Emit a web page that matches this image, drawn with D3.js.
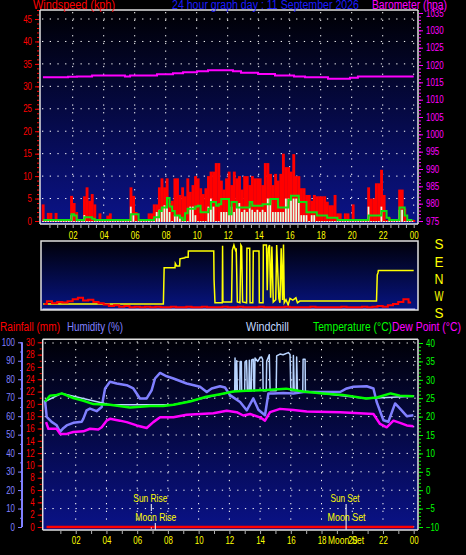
<!DOCTYPE html>
<html><head><meta charset="utf-8">
<script src="https://cdn.jsdelivr.net/npm/d3@7"></script>
<style>
html,body{margin:0;padding:0;background:#000;}
svg{display:block;}
text{font-family:"Liberation Sans",Arial,sans-serif;}
</style></head><body>
<svg id="c" width="466" height="555"></svg>
<script>
// ---------------- DATA ----------------
const hourTicks = [2,4,6,8,10,12,14,16,18,20,22,24];
const hourLabels = ["02","04","06","08","10","12","14","16","18","20","22","00"];
const windTicks = [0,5,10,15,20,25,30,35,40,45];
const baroTicks = [975,980,985,990,995,1000,1005,1010,1015,1020,1025,1030,1035];
const dirTicks = [180,90,0,-90,-180];
const dirLabels = ["S","E","N","W","S"];
const humTicks = [0,10,20,30,40,50,60,70,80,90,100];
const rainTicks = [0,2,4,6,8,10,12,14,16,18,20,22,24,26,28,30];
const tempTicks = [-10,-5,0,5,10,15,20,25,30,35,40];

// wind gust (kph), 10-minute samples
const windGust = [
 3.7,0,1.8,1.8,0,1.8,   0,0,0,0,0,5.6,   4,2,0,0,5.5,7.5,   4.5,6,3.7,0,1.7,0,
 0,1.2,1.7,0,0,0,       0,0,0,0,7.5,5.6, 2,0,0,0,0,1.7,     1.7,3.7,3.7,7.5,9.5,7.5,
 9.5,4,4.5,9.5,9.5,5.8, 7.5,5.5,9.5,6.5,8,10, 9.5,7.3,6,7.3,10,11, 11,12.9,12.9,9,7,9.5,
 11,8,11,9.5,10,7,      10,10,8,10,9.5,9.5, 9.5,8,12.9,12.9,10.5,8, 10.5,9,10.5,15,12,12,
 11,14.9,10,10,7.3,7.3, 5.8,5.8,4.5,5.8,5.5,5.5, 5.5,5.5,4.3,3.5,3.5,5.8, 1.7,1.7,0,1.7,1.7,0,
 3.7,0,0,0,0,0,         7.5,5,5,8.4,8.4,11.4, 5.8,0,0.8,0,0,0, 7,7,2.8,0,0,0
];
// average wind (kph), 10-minute samples
const windAvg = [
 0,0,0,0,0,0,  0,0,0,0,0,1.3,  0,0,0,0,1.3,0,  0,0,0,0,0,0,
 0,0,0,0,0,0,  0,0,0,0,3.2,1.3,  0,0,0,0,0,0,  0,0,2,2.5,3,3.5,
 5,2,0,1.3,1.3,1.3,  0,0,0,3.2,3.2,1.3,  0,0,0,0,3.2,5,  3.2,0,0,2,2,2,
 3.2,3.2,2,3,4,2,  2.5,2,3,2.5,2,2.5,  2,2.5,2,5,5,2,  2,2,2,2,5,5,
 5,5,5,5,1.3,1.3,  1.3,0,1.3,1.3,0,0,  0,0,0,0,0,0,  0,0,0,0,0,0,
 0,0,0,0,0,0,  3.2,0,0,0,0,3.2,  0,0,0,0,0,0,  2.5,2.5,0,0,0,0
];
// wind average trend line (kph), 10-minute samples
const windTrend = [
 0,0,0,0,0,0,  0,0,0,0,0,1.3,  1,0,0,0,0.6,0.6,  0.6,0.3,0,0,0,0,
 0,0,0,0,0,0,  0,0,0,0,1.3,1.3,  1.3,0,0,0,0,0,  0,0.6,0.6,2,2.8,2.8,
 4.9,3,2,1,1,0.5,  0,1.5,2.5,2.5,2.5,3,  3.2,1.7,1.7,1.7,2.5,4,  4,3.2,3.5,4.7,4.7,4.7,
 1.3,4,4,2.8,2.8,2.8,  2.8,2.8,4,3.2,3.2,3.2,  3.2,3.5,3.5,3.5,4.7,4.7,  4.7,2.8,2.8,2.8,2.8,4.5,
 5.4,5.4,5.4,4,4,4,  1.7,1.7,1.7,1.7,1,1,  1,1,0.5,0.5,0.5,0.5,  0,0,0,0,0,0,
 0,0,0,0,0,0,  1,1,1,1,1,2,  2,0.5,0,0,0,0,  2.8,2.8,1,0,0,0
];
// barometer (hpa), step changes
const baroHours  = [0.08,1.7,2.28,3.25,5.37,5.7,7.44,8.47,9.12,10.02,10.73,12.34,12.86,13.96,15.05,16.28,16.99,18.47,19.89,20.4,24];
const baroValues = [1016.5,1016.6,1016.7,1017.0,1016.7,1017.0,1017.3,1017.6,1017.9,1018.2,1018.5,1018.2,1017.8,1017.4,1017.0,1016.7,1016.5,1016.0,1016.3,1016.7,1016.7];

// wind direction (degrees, W side negative)
const dirHours = [0.1,7.85,7.9,8.6,8.62,8.71,8.9,8.92,9.24,9.26,9.45,9.46,11.1,11.12,11.18,11.65,11.67,11.69,12.25,12.3,12.4,12.5,12.55,12.62,12.79,12.85,12.9,12.96,13.22,13.24,13.42,13.44,13.62,13.65,14.02,14.04,14.28,14.3,14.5,14.55,14.62,14.7,14.77,14.85,14.94,15.1,15.16,15.3,15.37,15.45,15.54,15.6,15.65,15.76,15.9,16.02,16.2,16.4,16.5,16.66,21.6,21.65,21.7,21.72,24];
const dirValues = [-133,-133,58,58,81,67,67,105,110,113,113,146,146,-7,-126,-126,174,-122,-122,151,177,151,160,-122,-126,177,170,-122,-126,160,160,-126,-126,146,146,-126,-126,177,177,-60,160,177,-100,170,-122,-110,177,-103,-126,160,-112,180,-126,-110,-138,-103,-112,-100,-126,-117,-117,20,32,44,44];
// small speed trace in direction panel, 20-minute samples
const dirSpeed = [
 0.6,1.0,0.7,0.9,0.8,1.0,1.3,1.5,1.1,1.2,0.9,0.7,
 0.5,0.3,0.4,0.2,0.3,0.1,0.2,0.1,0.2,0.1,0.2,0.1,
 0.1,0.2,0.1,0.1,0.2,0.1,0.1,0.2,0.1,0.1,0.1,0.2,
 0.1,0.1,0.2,0.1,0.1,0.1,0.2,0.1,0.1,0.1,0.1,0.2,
 0.1,0.1,0.1,0.1,0.2,0.1,0.1,0.1,0.1,0.1,0.2,0.1,
 0.1,0.1,0.2,0.1,0.2,0.3,0.2,0.4,0.6,0.9,1.3,0.8
];

// humidity (%)
const humHours  = [0,0.11,0.43,0.76,0.98,1.19,1.41,1.84,2.39,2.5,2.71,2.93,3.36,3.69,3.91,4.23,4.67,5.32,5.75,6.18,6.62,6.94,7.16,7.49,7.92,8.36,9.22,10.09,10.53,10.85,11.39,11.72,12.04,12.7,13.13,13.56,13.89,14.32,14.54,14.87,15.52,16.17,16.82,18.12,19.21,19.64,20.07,20.94,21.38,21.59,22.03,22.35,22.79,23.11,23.55,23.98];
const humValues = [68.6,59.6,56.9,55.1,51.5,53.5,55,56.4,57,58.7,63.2,64.1,62.7,65,75,78.6,77.7,76.8,75,69.6,69.6,74,80.4,83.4,81.6,80.4,77.7,75.9,73.1,75,76.2,75.5,71.4,67.7,63.2,69.6,63.5,60.5,72.3,72.3,72.6,72.3,73.1,73.1,73.1,75,75.9,76.2,75,67.7,57.8,57,66.9,64.1,60,60.5];
// temperature (°C)
const tempHours  = [0,0.33,0.76,1.09,1.84,2.5,3.15,4.23,5.53,6.84,7.7,8.36,9.44,10.5,11.4,12.26,13.1,14.4,15.7,16.8,18.1,19.4,20.9,21.6,22.5,23.1,24];
const tempValues = [24.1,25.7,25.9,26.3,25.05,24.3,23.4,23.2,22.5,22.9,22.9,23.2,24.1,25.4,26.1,26.8,27,27.2,27.6,26.8,26.3,25.9,24.9,25.2,26.3,25.7,25.5];
// dew point (°C)
const dewHours  = [0.07,0.22,0.76,0.98,1.41,1.84,2.5,2.93,3.47,3.69,4.01,4.23,4.88,5.32,5.97,6.62,7.05,7.49,8.36,9.22,10.96,11.83,12.48,12.91,13.35,14.0,14.32,14.65,15.3,16.17,17.04,19.21,21.38,21.81,22.24,22.68,23.11,23.55,23.98];
const dewValues = [18.5,16.7,16.7,15.3,15.3,15.8,16,16.7,16.5,17.1,18.9,19.4,18.9,18.5,17.6,16.9,18.5,19.8,19.8,20.5,20.9,21.6,21.2,20.3,20.7,19.8,18.9,21.2,22.1,21.8,21.4,21.2,20.7,18,17.1,18.9,18.3,17.6,17.4];
// windchill (°C)
const chillHours  = [0,1.09,4.23,8.36,12.26,12.35,12.37,12.42,12.46,12.48,12.52,12.68,12.7,12.78,12.8,13.0,13.02,13.12,13.17,13.27,13.3,13.35,13.43,13.45,13.56,13.6,13.64,13.67,13.85,14.0,14.1,14.17,14.2,14.4,14.43,14.6,14.65,15.05,15.08,15.3,15.5,15.84,15.95,16.0,16.15,16.17,16.22,16.36,16.38,16.43,16.78,16.8,16.93,16.95,18.1,20.9,24];
const chillValues = [24.1,26.3,23.2,23.2,26.8,26.9,35.9,27,27,35.2,27,27,35,35,27,27,34.8,35.2,27,27,35.3,27,27,35.4,35.6,27,27,35.9,35,36,36.2,35.5,27,27,35,36.8,27,27,36.5,37,36.8,37.4,36.9,27,27,36.6,27,27,36.2,27,27,35.6,35.6,26.9,26.3,24.9,25.5];
// rainfall (mm)
const rainHours = [0.1,24];
const rainValues = [0,0];
// astronomical events (hour of day)
const sunRise = 6.92, moonRise = 7.18, sunSet = 19.6;

// ---------------- CHART ----------------
const svg = d3.select("#c");
const defs = svg.append("defs");
function grad(id,c0,c1){
  const g = defs.append("linearGradient").attr("id",id).attr("x1",0).attr("y1",0).attr("x2",0).attr("y2",1);
  g.append("stop").attr("offset","0%").attr("stop-color",c0);
  g.append("stop").attr("offset","100%").attr("stop-color",c1);
}
grad("gTop","#000004","#0b1389");
grad("gDir","#000008","#071483");
grad("gBot","#000006","#0a1288");
function clip(id,x,y,w,h){ defs.append("clipPath").attr("id",id).append("rect").attr("x",x).attr("y",y).attr("width",w).attr("height",h); }

const RED="#ff0000", GREEN="#00ff00", MAG="#ff00ff", YEL="#ffff00", LAV="#8080ff", FRAME="#e0e0e0";

function narrow(sel,perChar){
  sel.attr("textLength",function(){ return this.textContent.length*perChar; })
     .attr("lengthAdjust","spacingAndGlyphs");
}
function styleAxis(g,color,fs){
  g.select(".domain").remove();
  g.selectAll("line").attr("stroke",color).attr("stroke-width",1);
  g.selectAll("text").attr("fill",color).attr("font-size",fs).attr("font-family",null);
  narrow(g.selectAll("text"),4.4);
  return g;
}
function dotted(g,x1,y1,x2,y2){
  g.append("line").attr("x1",x1).attr("y1",y1).attr("x2",x2).attr("y2",y2)
   .attr("stroke","#ffffff").attr("stroke-width",1).attr("stroke-dasharray","1.3,6.4");
}
function label(x,y,t,c,fs,len,anchor){
  return svg.append("text").attr("x",x).attr("y",y).attr("fill",c).attr("font-size",fs)
    .attr("text-anchor",anchor||"start").attr("textLength",len).attr("lengthAdjust","spacingAndGlyphs").text(t);
}

// ===== Top panel: wind + barometer =====
const P1 = {l:40,r:418,t:10,b:224};
const xT = d3.scaleLinear().domain([0,24]).range([41.7,413.7]);
const yWind = d3.scaleLinear().domain([0,45]).range([221,19]);
const yBaro = d3.scaleLinear().domain([975,1035]).range([221,13]);
clip("c1",P1.l,P1.t,P1.r-P1.l,P1.b-P1.t);

svg.append("rect").attr("x",P1.l).attr("y",P1.t).attr("width",P1.r-P1.l).attr("height",P1.b-P1.t).attr("fill","url(#gTop)");
const g1grid = svg.append("g");
windTicks.filter(d=>d>0).forEach(d=>dotted(g1grid,P1.l+2,yWind(d),P1.r-2,yWind(d)));
hourTicks.forEach(h=>dotted(g1grid,xT(h),P1.t+2,xT(h),P1.b-2));

const g1 = svg.append("g").attr("clip-path","url(#c1)");
const bw = xT(1/6)-xT(0);
g1.append("line").attr("x1",xT(0.08)).attr("x2",xT(24.1)).attr("y1",yWind(0)).attr("y2",yWind(0)).attr("stroke",RED).attr("stroke-width",2);
g1.selectAll(".gust").data(windGust).join("rect").attr("class","gust")
  .attr("x",(d,i)=>xT(i/6)).attr("width",bw+0.3)
  .attr("y",d=>yWind(d)).attr("height",d=>yWind(0)-yWind(d)+1).attr("fill",RED);
g1.selectAll(".avg").data(windAvg).join("rect").attr("class","avg")
  .attr("x",(d,i)=>xT(i/6)+0.4).attr("width",bw-0.8)
  .attr("y",d=>yWind(d)).attr("height",d=>yWind(0)-yWind(d)+1).attr("fill","#e4ffe4");
g1.append("path").datum(windTrend)
  .attr("d",d3.line().x((d,i)=>xT(i/6+1/12)).y(d=>yWind(d)-1).curve(d3.curveStepAfter))
  .attr("fill","none").attr("stroke","#10e010").attr("stroke-width",2);
g1.append("path").datum(baroHours.map((h,i)=>[h,baroValues[i]]))
  .attr("d",d3.line().x(d=>xT(d[0])).y(d=>yBaro(d[1])).curve(d3.curveStepAfter))
  .attr("fill","none").attr("stroke",MAG).attr("stroke-width",2);

// frame
const f1 = svg.append("g").attr("stroke",FRAME).attr("stroke-width",1.5);
f1.append("line").attr("x1",P1.l).attr("x2",P1.r).attr("y1",P1.t).attr("y2",P1.t);
f1.append("line").attr("x1",P1.l).attr("x2",P1.r).attr("y1",P1.b).attr("y2",P1.b);
f1.append("line").attr("x1",P1.l).attr("x2",P1.l).attr("y1",P1.t).attr("y2",P1.b);
f1.append("line").attr("x1",P1.r).attr("x2",P1.r).attr("y1",P1.t).attr("y2",P1.b);

// axes
styleAxis(svg.append("g").attr("transform",`translate(${P1.l-1},0)`)
  .call(d3.axisLeft(yWind).tickValues(d3.range(0,48,1)).tickSize(2).tickFormat("")),RED,10);
styleAxis(svg.append("g").attr("transform",`translate(${P1.l-1},0)`)
  .call(d3.axisLeft(yWind).tickValues(windTicks).tickSize(4).tickPadding(3).tickFormat(d3.format("d"))),RED,10);
styleAxis(svg.append("g").attr("transform",`translate(${P1.r+1},0)`)
  .call(d3.axisRight(yBaro).tickValues(d3.range(975,1036,1)).tickSize(2).tickFormat("")),MAG,10);
styleAxis(svg.append("g").attr("transform",`translate(${P1.r+1},0)`)
  .call(d3.axisRight(yBaro).tickValues(baroTicks).tickSize(4).tickPadding(3).tickFormat(d3.format("d"))),MAG,10);
styleAxis(svg.append("g").attr("transform",`translate(0,${P1.b+1})`)
  .call(d3.axisBottom(xT).tickValues(d3.range(0.5,24.01,0.5)).tickSize(3).tickFormat("")),"#b0b0b0",10);
styleAxis(svg.append("g").attr("transform",`translate(0,${P1.b})`)
  .call(d3.axisBottom(xT).tickValues(hourTicks).tickSize(0).tickPadding(7.5).tickFormat((d,i)=>hourLabels[i])),YEL,10);

// titles
label(33,9.3,"Windspeed (kph)",RED,12,82);
label(172,9.3,"24 hour graph day : 11 September 2026","#1c1cff",12,187);
label(372,9,"Barometer (hpa)",MAG,12,75);

// ===== Direction panel =====
const P2 = {l:41,r:418,t:241,b:310};
const yDir = d3.scaleLinear().domain([180,-180]).range([244.5,313]);
const ySpd = d3.scaleLinear().domain([0,10]).range([308,240]);
clip("c2",P2.l,P2.t,P2.r-P2.l,P2.b-P2.t);
svg.append("rect").attr("x",P2.l).attr("y",P2.t).attr("width",P2.r-P2.l).attr("height",P2.b-P2.t).attr("fill","url(#gDir)");
const g2 = svg.append("g").attr("clip-path","url(#c2)");
g2.append("line").attr("x1",xT(0.05)).attr("x2",xT(24.1)).attr("y1",309.2).attr("y2",309.2).attr("stroke","#c8c8ff").attr("stroke-width",1.5);
g2.append("path").datum(dirHours.map((h,i)=>[h,dirValues[i]]))
  .attr("d",d3.line().x(d=>xT(d[0])).y(d=>yDir(d[1])))
  .attr("fill","none").attr("stroke",YEL).attr("stroke-width",1.5);
g2.append("path").datum(dirSpeed)
  .attr("d",d3.line().x((d,i)=>xT(i/3+1/6)).y(d=>ySpd(d)).curve(d3.curveStep))
  .attr("fill","none").attr("stroke",RED).attr("stroke-width",2);
const f2 = svg.append("g").attr("stroke",FRAME).attr("stroke-width",1.5);
f2.append("rect").attr("x",P2.l).attr("y",P2.t).attr("width",P2.r-P2.l).attr("height",P2.b-P2.t).attr("fill","none");
const ad = svg.append("g").attr("transform","translate(432,0)")
  .call(d3.axisRight(yDir).tickValues(dirTicks).tickSize(0).tickPadding(7).tickFormat((d,i)=>dirLabels[i]));
ad.select(".domain").remove();
ad.selectAll("text").attr("fill",YEL).attr("font-size",14).attr("font-family",null).attr("text-anchor","middle")
  .attr("textLength",9).attr("lengthAdjust","spacingAndGlyphs");

// ===== Bottom panel =====
const P3 = {l:42.7,r:418,t:339.3,b:530};
const xB = d3.scaleLinear().domain([0,24]).range([45,413.7]);
const yTemp = d3.scaleLinear().domain([-10,40]).range([527,343]);
const yHum = d3.scaleLinear().domain([0,100]).range([527,342.3]);
const yRain = d3.scaleLinear().domain([0,30]).range([527,342.3]);
clip("c3",P3.l,P3.t,P3.r-P3.l,P3.b-P3.t);
svg.append("rect").attr("x",P3.l).attr("y",P3.t).attr("width",P3.r-P3.l).attr("height",P3.b-P3.t).attr("fill","url(#gBot)");
const g3grid = svg.append("g");
tempTicks.filter(d=>d>-10).forEach(d=>dotted(g3grid,P3.l+2,yTemp(d),P3.r-2,yTemp(d)));
hourTicks.forEach(h=>dotted(g3grid,xB(h),P3.t+2,xB(h),P3.b-2));

const g3 = svg.append("g").attr("clip-path","url(#c3)");
const lineHV = d3.line().x(d=>xB(d[0])).y(d=>d[1]);
function series(hours,vals,scale,color,w){
  g3.append("path").datum(hours.map((h,i)=>[h,scale(vals[i])]))
    .attr("d",lineHV).attr("fill","none").attr("stroke",color).attr("stroke-width",w).attr("stroke-linejoin","round");
}
series(humHours,humValues,yHum,LAV,2.5);
series(dewHours,dewValues,yTemp,MAG,2.5);
series(chillHours,chillValues,yTemp,"#b8d4ff",1.5);
series(tempHours,tempValues,yTemp,GREEN,2.5);
series(rainHours,rainValues,yRain,RED,2.5);

// sun / moon markers
const ev = svg.append("g");
ev.append("line").attr("x1",xB(sunRise)).attr("x2",xB(sunRise)).attr("y1",504).attr("y2",511).attr("stroke","#fff").attr("stroke-width",1);
dotted(ev,xB(sunRise),512,xB(sunRise),530);
ev.append("line").attr("x1",xB(moonRise)).attr("x2",xB(moonRise)).attr("y1",523).attr("y2",530).attr("stroke","#fff").attr("stroke-width",1);
ev.append("line").attr("x1",xB(sunSet)).attr("x2",xB(sunSet)).attr("y1",504).attr("y2",530).attr("stroke","#fff").attr("stroke-width",1);
label(xB(sunRise)-1,501.5,"Sun Rise",YEL,10.5,34,"middle");
label(xB(moonRise)+0.5,521,"Moon Rise",YEL,10.5,41,"middle");
label(xB(sunSet)-1,501.5,"Sun Set",YEL,10.5,29,"middle");
label(xB(sunSet)+0.5,521,"Moon Set",YEL,10.5,38,"middle");

// frame
const f3 = svg.append("g").attr("stroke",FRAME).attr("stroke-width",1.5);
f3.append("line").attr("x1",P3.l).attr("x2",P3.r).attr("y1",P3.t).attr("y2",P3.t);
f3.append("line").attr("x1",P3.l).attr("x2",P3.r).attr("y1",P3.b).attr("y2",P3.b);
f3.append("line").attr("x1",P3.l).attr("x2",P3.l).attr("y1",P3.t).attr("y2",P3.b);
f3.append("line").attr("x1",P3.r).attr("x2",P3.r).attr("y1",P3.t).attr("y2",P3.b);

// humidity axis
svg.append("line").attr("x1",22).attr("x2",22).attr("y1",yHum(100)).attr("y2",yHum(0)).attr("stroke",LAV).attr("stroke-width",2);
styleAxis(svg.append("g").attr("transform","translate(22,0)")
  .call(d3.axisLeft(yHum).tickValues(d3.range(0,101,5)).tickSize(2).tickFormat("")),LAV,10);
styleAxis(svg.append("g").attr("transform","translate(22,0)")
  .call(d3.axisLeft(yHum).tickValues(humTicks).tickSize(4).tickPadding(3).tickFormat(d3.format("d"))),LAV,10);
// rainfall axis
styleAxis(svg.append("g").attr("transform",`translate(${P3.l-1},0)`)
  .call(d3.axisLeft(yRain).tickValues(d3.range(0,31,1)).tickSize(2).tickFormat("")),RED,10);
styleAxis(svg.append("g").attr("transform",`translate(${P3.l-1},0)`)
  .call(d3.axisLeft(yRain).tickValues(rainTicks).tickSize(4).tickPadding(3).tickFormat(d3.format("d"))),RED,10);
// temperature axis
styleAxis(svg.append("g").attr("transform",`translate(${P3.r+1},0)`)
  .call(d3.axisRight(yTemp).tickValues(d3.range(-10,41,1)).tickSize(2).tickFormat("")),GREEN,10);
styleAxis(svg.append("g").attr("transform",`translate(${P3.r+1},0)`)
  .call(d3.axisRight(yTemp).tickValues(tempTicks).tickSize(4).tickPadding(3).tickFormat(d3.format("d"))),GREEN,10);
// time axis
styleAxis(svg.append("g").attr("transform",`translate(0,${P3.b+1})`)
  .call(d3.axisBottom(xB).tickValues(d3.range(1,24.01,1)).tickSize(3).tickFormat("")),"#b0b0b0",10);
styleAxis(svg.append("g").attr("transform",`translate(0,${P3.b})`)
  .call(d3.axisBottom(xB).tickValues(hourTicks).tickSize(0).tickPadding(7.2).tickFormat((d,i)=>hourLabels[i])),YEL,10);
label(xB(sunSet),544.3,"Moon Set",YEL,10.5,36,"middle");

// headers
label(0,331,"Rainfall (mm)",RED,12.5,60);
label(67,331,"Humidity (%)",LAV,12.5,56);
label(246,331,"Windchill","#c0d8ff",12.5,43);
label(313,331,"Temperature (°C)",GREEN,12.5,79);
label(392,331,"Dew Point (°C)",MAG,12.5,69);
</script></body></html>
